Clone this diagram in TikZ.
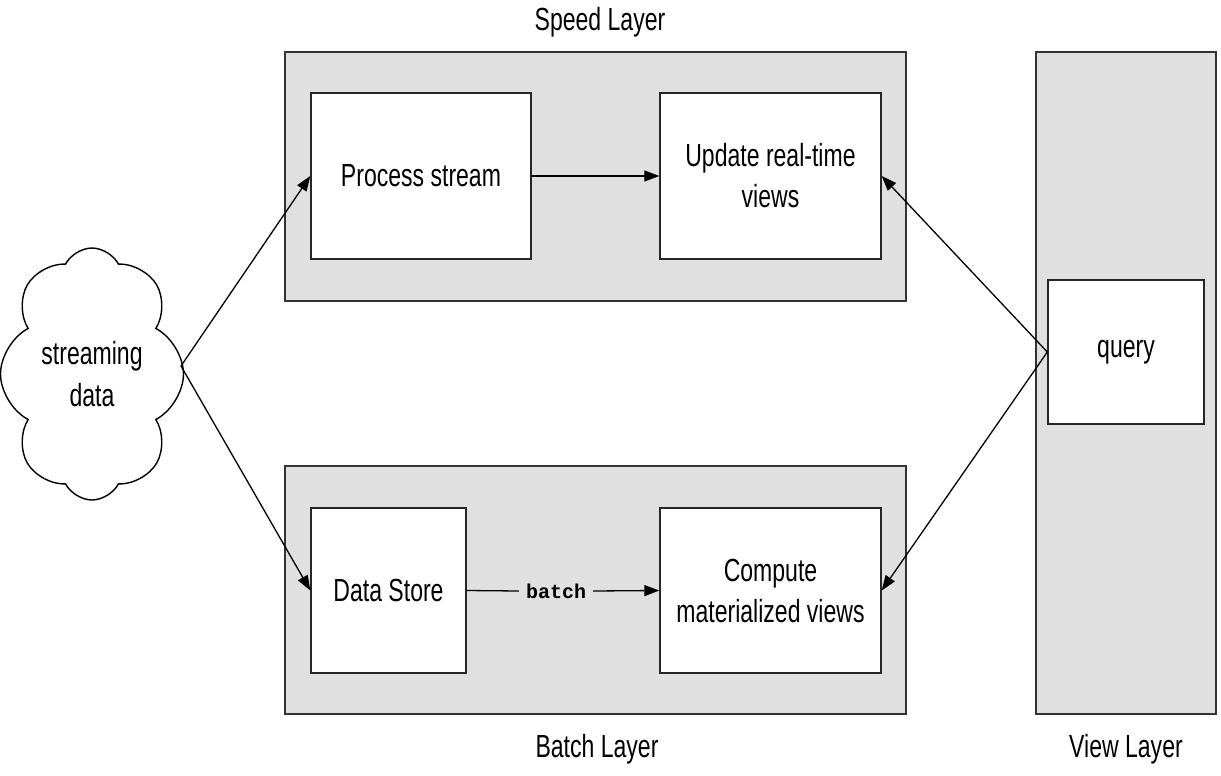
\documentclass[tikz,border=0pt]{standalone}
\usepackage{fontspec}
\setmainfont{Liberation Sans}[FakeStretch=0.72]
\newfontfamily\monofont{Liberation Mono}
\usetikzlibrary{shapes.symbols,arrows.meta}
\definecolor{layergray}{RGB}{224,224,224}
\begin{document}
\begin{tikzpicture}[x=1pt,y=-1pt,
  layer/.style={draw=black!80,line width=1.4pt,fill=layergray},
  stepbox/.style={draw=black!85,line width=1.4pt,fill=white,align=center,font=\fontsize{32}{41}\selectfont},
  lbl/.style={font=\fontsize{32}{41}\selectfont},
  conn/.style={line width=1.3pt,-{Triangle[length=15pt,width=11pt]}}]
\useasboundingbox (0,0) rectangle (1221,776);
% layers
\draw[layer] (285,52) rectangle (906,301);
\draw[layer] (285,466) rectangle (906,714);
\draw[layer] (1036,52) rectangle (1216,714);
\node[lbl] (speedlbl) at (600,22) {Speed Layer};
\node[lbl] (batchlbl) at (597,749) {Batch Layer};
\node[lbl] (viewlbl) at (1126,749) {View Layer};
% boxes
\node[stepbox,minimum width=220pt,minimum height=166pt] (proc) at (421,176) {Process stream};
\node[stepbox,minimum width=221pt,minimum height=166pt] (upd) at (770.5,176) {Update real-time\\views};
\node[stepbox,minimum width=155pt,minimum height=165pt] (store) at (388.5,590.5) {Data Store};
\node[stepbox,minimum width=221pt,minimum height=165pt] (comp) at (770.5,590.5) {Compute\\materialized views};
\node[stepbox,minimum width=156pt,minimum height=144pt] (query) at (1126,352) {query};
% cloud
\node[cloud,draw=black,line width=1.4pt,fill=white,cloud puffs=8,cloud puff arc=125,aspect=0.73,
  minimum width=183pt,minimum height=252pt,inner sep=0pt,align=center,
  font=\fontsize{32}{42}\selectfont] (cloud) at (92,374) {streaming\\data};
\coordinate (ctip) at (181,366);
% connectors
\draw[conn] (ctip) -- (proc.west);
\draw[conn] (ctip) -- (store.west);
\draw[conn] (proc.east) -- (upd.west);
\draw[conn] (query.west) -- (upd.east);
\draw[conn] (query.west) -- (comp.east);
\node[font=\monofont\bfseries\fontsize{20}{24}\selectfont,fill=layergray,inner sep=7pt] (batch) at (556,591) {batch};
\draw[line width=1.3pt] (store.east) -- (batch.west);
\draw[conn] (batch.east) -- (comp.west);
\end{tikzpicture}
\end{document}
